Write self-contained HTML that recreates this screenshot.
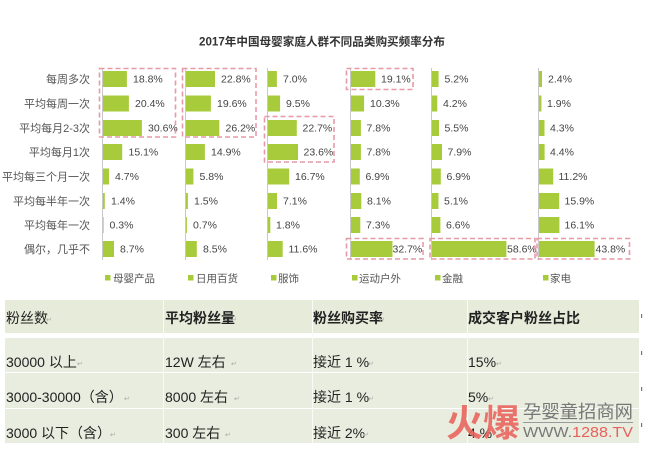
<!DOCTYPE html>
<html><head><meta charset="utf-8">
<style>
html,body{margin:0;padding:0;background:#fff;}
body{width:663px;height:466px;overflow:hidden;}
svg{display:block;}
text{font-family:"Liberation Sans","Noto Sans CJK SC",sans-serif;}
</style></head>
<body>
<svg width="663" height="466" viewBox="0 0 663 466" xmlns="http://www.w3.org/2000/svg">
<rect width="663" height="466" fill="#fff"/>
<!-- title -->
<text x="199" y="45.5" font-size="11.5" font-weight="bold" fill="#333" textLength="246" lengthAdjust="spacingAndGlyphs">2017年中国母婴家庭人群不同品类购买频率分布</text>

<!-- row labels -->
<g font-size="11" fill="#555" text-anchor="end">
<text x="90" y="83">每周多次</text>
<text x="90" y="107.5">平均每周一次</text>
<text x="90" y="132">平均每月2-3次</text>
<text x="90" y="156">平均每月1次</text>
<text x="90" y="180.5">平均每三个月一次</text>
<text x="90" y="205">平均每半年一次</text>
<text x="90" y="229">平均每年一次</text>
<text x="90" y="253">偶尔，几乎不</text>
</g>

<!-- axes -->
<g stroke="#c8c8c8" stroke-width="1">
<line x1="102.5" y1="68" x2="102.5" y2="260"/>
<line x1="185.5" y1="68" x2="185.5" y2="260"/>
<line x1="267.5" y1="68" x2="267.5" y2="260"/>
<line x1="350.5" y1="68" x2="350.5" y2="260"/>
<line x1="431.5" y1="68" x2="431.5" y2="260"/>
<line x1="538.5" y1="68" x2="538.5" y2="260"/>
</g>

<g fill="#a8cb3c">
<rect x="103" y="71" width="23.9" height="16"/>
<rect x="103" y="95.5" width="25.9" height="16"/>
<rect x="103" y="120" width="38.9" height="16"/>
<rect x="103" y="144" width="19.2" height="16"/>
<rect x="103" y="168.5" width="6" height="16"/>
<rect x="103" y="193" width="1.8" height="16"/>
<rect x="103" y="217" width="0.6" height="16"/>
<rect x="103" y="241" width="11" height="16"/>
<rect x="186" y="71" width="29" height="16"/>
<rect x="186" y="95.5" width="24.9" height="16"/>
<rect x="186" y="120" width="33.3" height="16"/>
<rect x="186" y="144" width="18.9" height="16"/>
<rect x="186" y="168.5" width="7.4" height="16"/>
<rect x="186" y="193" width="1.9" height="16"/>
<rect x="186" y="217" width="0.9" height="16"/>
<rect x="186" y="241" width="10.8" height="16"/>
<rect x="268" y="71" width="8.9" height="16"/>
<rect x="268" y="95.5" width="12.1" height="16"/>
<rect x="268" y="120" width="28.8" height="16"/>
<rect x="268" y="144" width="30" height="16"/>
<rect x="268" y="168.5" width="21.2" height="16"/>
<rect x="268" y="193" width="9" height="16"/>
<rect x="268" y="217" width="2.3" height="16"/>
<rect x="268" y="241" width="14.7" height="16"/>
<rect x="351" y="71" width="24.3" height="16"/>
<rect x="351" y="95.5" width="13.1" height="16"/>
<rect x="351" y="120" width="9.9" height="16"/>
<rect x="351" y="144" width="9.9" height="16"/>
<rect x="351" y="168.5" width="8.8" height="16"/>
<rect x="351" y="193" width="10.3" height="16"/>
<rect x="351" y="217" width="9.3" height="16"/>
<rect x="351" y="241" width="41.5" height="16"/>
<rect x="432" y="71" width="6.6" height="16"/>
<rect x="432" y="95.5" width="5.3" height="16"/>
<rect x="432" y="120" width="7" height="16"/>
<rect x="432" y="144" width="10" height="16"/>
<rect x="432" y="168.5" width="8.8" height="16"/>
<rect x="432" y="193" width="6.5" height="16"/>
<rect x="432" y="217" width="8.4" height="16"/>
<rect x="432" y="241" width="74.4" height="16"/>
<rect x="539" y="71" width="3" height="16"/>
<rect x="539" y="95.5" width="2.4" height="16"/>
<rect x="539" y="120" width="5.5" height="16"/>
<rect x="539" y="144" width="5.6" height="16"/>
<rect x="539" y="168.5" width="14.2" height="16"/>
<rect x="539" y="193" width="20.2" height="16"/>
<rect x="539" y="217" width="20.4" height="16"/>
<rect x="539" y="241" width="55.6" height="16"/>
</g>

<g font-size="10.5" fill="#444">
<text x="133" y="82.5">18.8%</text>
<text x="135" y="107">20.4%</text>
<text x="148" y="131.5">30.6%</text>
<text x="128.5" y="155.5">15.1%</text>
<text x="115" y="180">4.7%</text>
<text x="111" y="204.5">1.4%</text>
<text x="109.5" y="228.5">0.3%</text>
<text x="120" y="252.5">8.7%</text>

<text x="221" y="82.5">22.8%</text>
<text x="217" y="107">19.6%</text>
<text x="225.5" y="131.5">26.2%</text>
<text x="211" y="155.5">14.9%</text>
<text x="199.5" y="180">5.8%</text>
<text x="194" y="204.5">1.5%</text>
<text x="193" y="228.5">0.7%</text>
<text x="203" y="252.5">8.5%</text>

<text x="283" y="82.5">7.0%</text>
<text x="286" y="107">9.5%</text>
<text x="302.5" y="131.5">22.7%</text>
<text x="303.5" y="155.5">23.6%</text>
<text x="295" y="180">16.7%</text>
<text x="283" y="204.5">7.1%</text>
<text x="276" y="228.5">1.8%</text>
<text x="288.5" y="252.5">11.6%</text>

<text x="381" y="82.5">19.1%</text>
<text x="370" y="107">10.3%</text>
<text x="366.5" y="131.5">7.8%</text>
<text x="366.5" y="155.5">7.8%</text>
<text x="365.5" y="180">6.9%</text>
<text x="367" y="204.5">8.1%</text>
<text x="366" y="228.5">7.3%</text>
<text x="392.5" y="252.5">32.7%</text>

<text x="444.5" y="82.5">5.2%</text>
<text x="443" y="107">4.2%</text>
<text x="444.5" y="131.5">5.5%</text>
<text x="447.5" y="155.5">7.9%</text>
<text x="446.5" y="180">6.9%</text>
<text x="444" y="204.5">5.1%</text>
<text x="446" y="228.5">6.6%</text>
<text x="507" y="252.5">58.6%</text>

<text x="548" y="82.5">2.4%</text>
<text x="547" y="107">1.9%</text>
<text x="550" y="131.5">4.3%</text>
<text x="550" y="155.5">4.4%</text>
<text x="558.5" y="180">11.2%</text>
<text x="564.5" y="204.5">15.9%</text>
<text x="564.5" y="228.5">16.1%</text>
<text x="595.5" y="252.5">43.8%</text>
</g>

<g fill="none" stroke="#e79aa6" stroke-width="1.6" stroke-dasharray="5,3">
<rect x="99.5" y="68.5" width="76" height="68.5"/>
<rect x="182.5" y="68.5" width="73.5" height="68.5"/>
<rect x="264.5" y="116.5" width="69.5" height="45.5"/>
<rect x="346.5" y="68.5" width="66.5" height="21"/>
<rect x="346.5" y="238.5" width="76.5" height="20.5"/>
<rect x="430" y="238.5" width="105" height="20.5"/>
<rect x="537" y="238.5" width="92.5" height="20.5"/>
</g>

<g fill="#a8cb3c">
<rect x="105" y="275" width="5.5" height="5.5"/>
<rect x="188" y="275" width="5.5" height="5.5"/>
<rect x="271" y="275" width="5.5" height="5.5"/>
<rect x="352" y="275" width="5.5" height="5.5"/>
<rect x="435" y="275" width="5.5" height="5.5"/>
<rect x="543" y="275" width="5.5" height="5.5"/>
</g>
<g font-size="10.5" fill="#555">
<text x="113" y="282">母婴产品</text>
<text x="196" y="282">日用百货</text>
<text x="278" y="282">服饰</text>
<text x="359" y="282">运动户外</text>
<text x="442" y="282">金融</text>
<text x="550" y="282">家电</text>
</g>

<!-- table -->
<rect x="5" y="300" width="634" height="33" fill="#e7ebda"/>
<rect x="5" y="338" width="634" height="34" fill="#e9eddf"/>
<rect x="5" y="373" width="634" height="35" fill="#e9eddf"/>
<rect x="5" y="409" width="634" height="34" fill="#e9eddf"/>
<g stroke="#fafbf6" stroke-width="1">
<line x1="163.5" y1="300" x2="163.5" y2="443"/>
<line x1="312.5" y1="300" x2="312.5" y2="443"/>
<line x1="467.5" y1="300" x2="467.5" y2="443"/>
</g>
<g font-size="14" fill="#222">
<text x="6" y="323">粉丝数</text>
<text x="165" y="323" font-weight="bold">平均粉丝量</text>
<text x="313" y="323" font-weight="bold">粉丝购买率</text>
<text x="468" y="323" font-weight="bold">成交客户粉丝占比</text>

<text x="6" y="367">30000 以上</text>
<text x="165" y="367">12W 左右</text>
<text x="313" y="367">接近 1 %</text>
<text x="468" y="367">15%</text>

<text x="6" y="402">3000-30000（含）</text>
<text x="165" y="402">8000 左右</text>
<text x="313" y="402">接近 1 %</text>
<text x="468" y="402">5%</text>

<text x="6" y="438">3000 以下（含）</text>
<text x="165" y="438">300 左右</text>
<text x="313" y="438">接近 2%</text>
<text x="468" y="438">4 %</text>
</g>
<g font-size="7" fill="#aaa">
<text x="46" y="322">↵</text>
<text x="231" y="322">↵</text>
<text x="379" y="322">↵</text>
<text x="573" y="322">↵</text>
<text x="77" y="366">↵</text>
<text x="231" y="366">↵</text>
<text x="368" y="366">↵</text>
<text x="496" y="366">↵</text>
<text x="124" y="401">↵</text>
<text x="234" y="401">↵</text>
<text x="368" y="401">↵</text>
<text x="488" y="401">↵</text>
<text x="110" y="437">↵</text>
<text x="225" y="437">↵</text>
<text x="363" y="437">↵</text>
</g>
<g fill="#777">
<rect x="641" y="314" width="1.2" height="4"/>
<rect x="641" y="351" width="1.2" height="4"/>
<rect x="641" y="387" width="1.2" height="4"/>
<rect x="641" y="423" width="1.2" height="4"/>
</g>

<!-- watermark -->
<text x="446" y="436" font-size="37" font-weight="bold" fill="#e8615b" fill-opacity="0.88" textLength="74" lengthAdjust="spacingAndGlyphs">火爆</text>
<text x="523" y="418" font-size="18" fill="#777" textLength="110" lengthAdjust="spacingAndGlyphs">孕婴童招商网</text>
<line x1="523" y1="422.5" x2="633" y2="422.5" stroke="#9a9a9a" stroke-width="1"/>
<text x="523" y="437" font-size="15" fill="#777" textLength="110" lengthAdjust="spacingAndGlyphs">WWW.<tspan fill="#e8615b">1288.TV</tspan></text>
</svg>
</body></html>
